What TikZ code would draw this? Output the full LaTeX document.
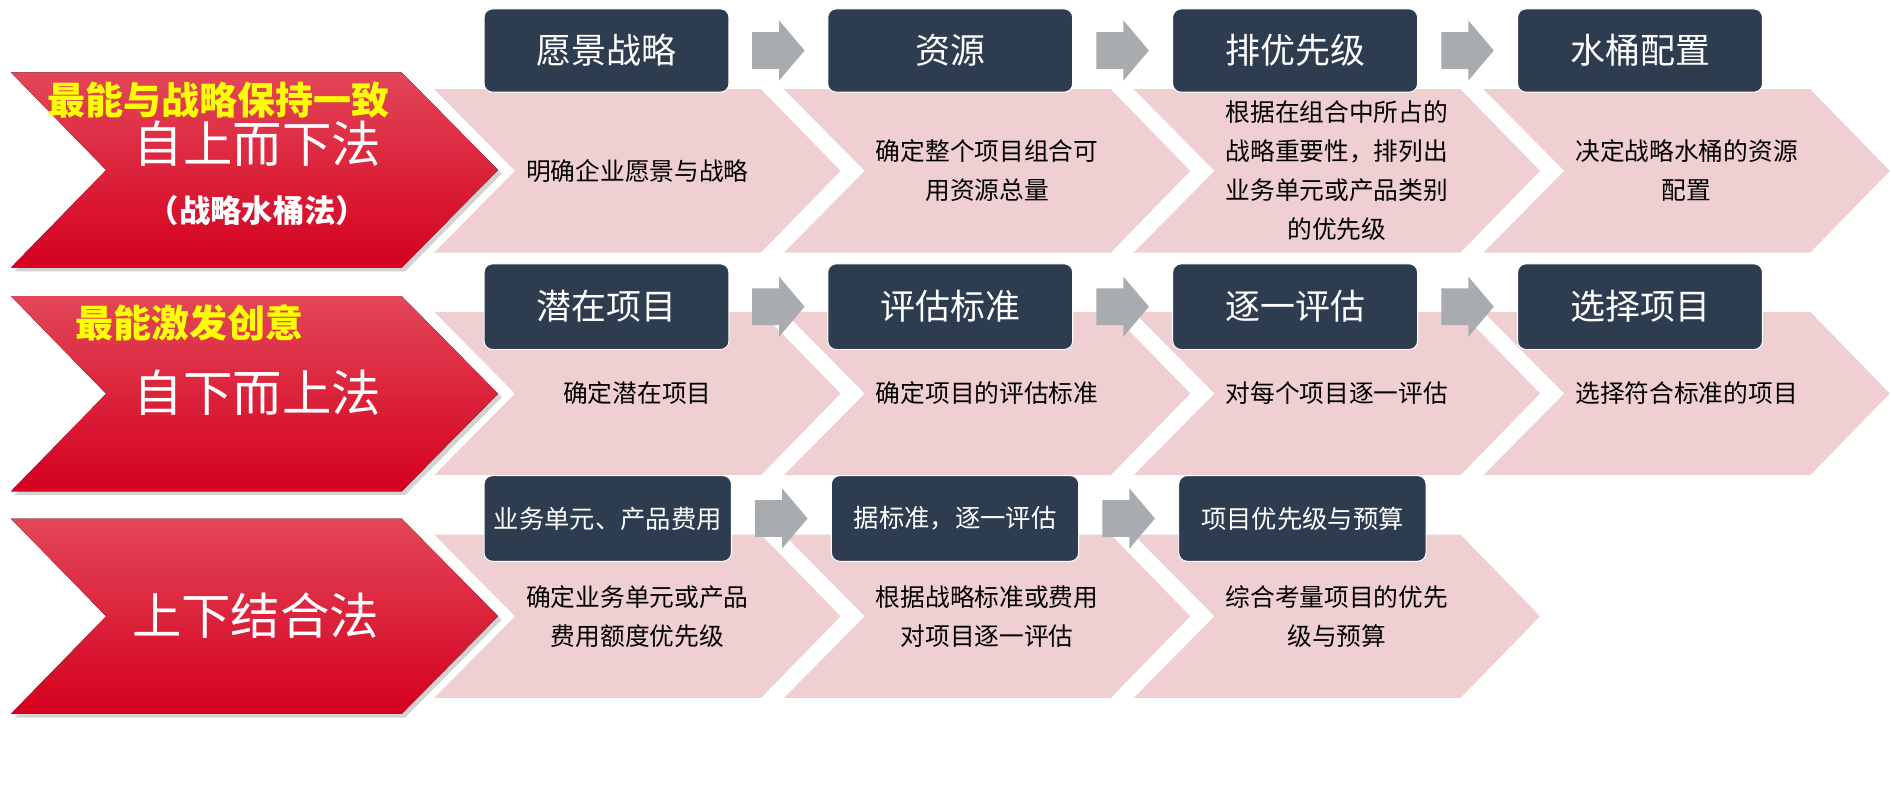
\documentclass[tikz,border=0pt]{standalone}
\usepackage{fontspec}
\setmainfont{Noto Sans CJK SC}
\usetikzlibrary{shadows,calc}

\definecolor{boxnavy}{HTML}{2E3C4F}
\definecolor{arrowgray}{HTML}{A9ACAF}
\definecolor{chevpink}{HTML}{F0CFD3}
\definecolor{redtop}{HTML}{E34658}
\definecolor{redmid}{HTML}{E30B31}
\definecolor{redbot}{HTML}{D4001F}
\definecolor{noteyellow}{HTML}{FFFF00}

\begin{document}
\begin{tikzpicture}[x=1pt, y=-1pt,
    every node/.style={inner sep=0pt},
    redchev/.style={top color=redtop, middle color=redmid, bottom color=redbot,
      drop shadow={shadow xshift=3pt, shadow yshift=-3pt, opacity=0.35}},
    pinkchev/.style={fill=chevpink},
    stepbox/.style={fill=boxnavy, draw=white, line width=0.8pt, rounded corners=7pt,
      text=white, anchor=north west, minimum width=203pt, minimum height=69pt,
      font=\fontsize{29}{34}\selectfont},
    smallbox/.style={stepbox, minimum width=205pt, minimum height=71pt,
      font=\fontsize{21}{25}\selectfont},
    desc/.style={align=center, font=\fontsize{20.5}{32.3}\selectfont},
    method/.style={text=white, font=\fontsize{41}{48}\selectfont},
    note/.style={text=noteyellow, font=\bfseries\fontsize{31.5}{36}\selectfont}]

  \useasboundingbox (0,0) rectangle (1568,652.6);

  % red method chevrons
  \foreach \cy in {141,326.5,511}
    \fill[redchev] (9,\cy-81) -- (333,\cy-81) -- (413,\cy) -- (333,\cy+81)
      -- (9,\cy+81) -- (88,\cy) -- cycle;

  % pink step chevrons
  \foreach \cy/\n in {141.7/4,326.3/4,511/3}
    \foreach \k in {1,...,\n}
      \fill[pinkchev] ({70+290*\k},\cy-67.75) -- ++(271,0) -- ++(66,67.75)
        -- ++(-66,67.75) -- ++(-271,0) -- ++(67,-67.75) -- cycle;

  \node[note] (topnote) at (181,83) {最能与战略保持一致};
  \node[method] (topdown) at (213.5,119.5) {自上而下法};
  \node[text=white, font=\bfseries\fontsize{26}{32}\selectfont] (bucketlaw) at (213.5,175) {（战略水桶法）};
  \node[note] (midnote) at (157,268) {最能激发创意};
  \node[method] (bottomup) at (213.5,325.5) {自下而上法};
  \node[method] (combined) at (212,510.6) {上下结合法};

  \node[stepbox] (vision) at (401,7) {愿景战略};
  \node[stepbox] (resource) at (686,7) {资源};
  \node[stepbox] (priority) at (972,7) {排优先级};
  \node[stepbox] (bucket) at (1258,7) {水桶配置};

  \node[stepbox, minimum height=71pt] (potential) at (401,218.4) {潜在项目};
  \node[stepbox, minimum height=71pt] (criteria) at (686,218.4) {评估标准};
  \node[stepbox, minimum height=71pt] (assess) at (972,218.4) {逐一评估};
  \node[stepbox, minimum height=71pt] (select) at (1258,218.4) {选择项目};

  \node[smallbox] (units) at (401,394) {业务单元、产品费用};
  \node[smallbox] (standard) at (689,394) {据标准，逐一评估};
  \node[smallbox] (budget) at (977,394) {项目优先级与预算};

  \foreach \a/\b in {vision/resource,resource/priority,priority/bucket,
      potential/criteria,criteria/assess,assess/select,
      units/standard,standard/budget}
    \fill[arrowgray] ($(\a.east)!0.5!(\b.west)$) ++(-21.75,-15.2) -- ++(22.3,0)
      -- ++(0,-9.8) -- ++(21.2,25) -- ++(-21.2,25) -- ++(0,-9.8) -- ++(-22.3,0) -- cycle;

  \node[desc] (visiontext) at (528.5,141.7) {明确企业愿景与战略};
  \node[desc] (resourcetext) at (818.5,141.7) {确定整个项目组合可\\用资源总量};
  \node[desc] (prioritytext) at (1108.5,141.7) {根据在组合中所占的\\战略重要性，排列出\\业务单元或产品类别\\的优先级};
  \node[desc] (buckettext) at (1398.5,141.7) {决定战略水桶的资源\\配置};

  \node[desc] (potentialtext) at (528.5,326.3) {确定潜在项目};
  \node[desc] (criteriatext) at (818.5,326.3) {确定项目的评估标准};
  \node[desc] (assesstext) at (1108.5,326.3) {对每个项目逐一评估};
  \node[desc] (selecttext) at (1398.5,326.3) {选择符合标准的项目};

  \node[desc] (unitstext) at (528.5,511) {确定业务单元或产品\\费用额度优先级};
  \node[desc] (standardtext) at (818.5,511) {根据战略标准或费用\\对项目逐一评估};
  \node[desc] (budgettext) at (1108.5,511) {综合考量项目的优先\\级与预算};

\end{tikzpicture}
\end{document}
